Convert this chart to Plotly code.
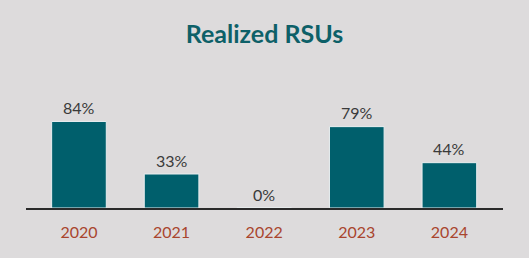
import plotly.graph_objects as go

years = ["2020", "2021", "2022", "2023", "2024"]
realized = [84, 33, 0, 79, 44]
labels = ["84%", "33%", "0%", "79%", "44%"]

bg = "#dddbdc"
fig = go.Figure(go.Bar(
    x=years, y=realized,
    marker=dict(color="#005f6c", line=dict(color="#e8eef0", width=1)),
    width=0.59, cliponaxis=False,
))
for i, (v, lab) in enumerate(zip(realized, labels)):
    fig.add_annotation(x=i, y=v, xref="x", yref="y", text=lab, showarrow=False,
                       yanchor="middle", yshift=14,
                       font=dict(family="Lato", size=16, color="#3a3a3a"))
fig.update_layout(
    width=529, height=258, paper_bgcolor=bg, plot_bgcolor=bg,
    margin=dict(l=26, r=26, t=105, b=50),
    showlegend=False,
    title=dict(text="<b>Realized RSUs</b>", x=0.5, xanchor="center", y=0.866, yanchor="middle",
               font=dict(family="Lato", size=25, color="#0d6068")),
    xaxis=dict(type="category", range=[-0.572, 4.579], showline=True, linecolor="#2a2a2a", linewidth=2,
               showgrid=False, ticks="", ticklabelstandoff=9,
               tickfont=dict(family="Lato", size=16, color="#a9452e")),
    yaxis=dict(range=[0, 100], visible=False, showgrid=False, zeroline=False),
)
fig.write_html("out.html")
